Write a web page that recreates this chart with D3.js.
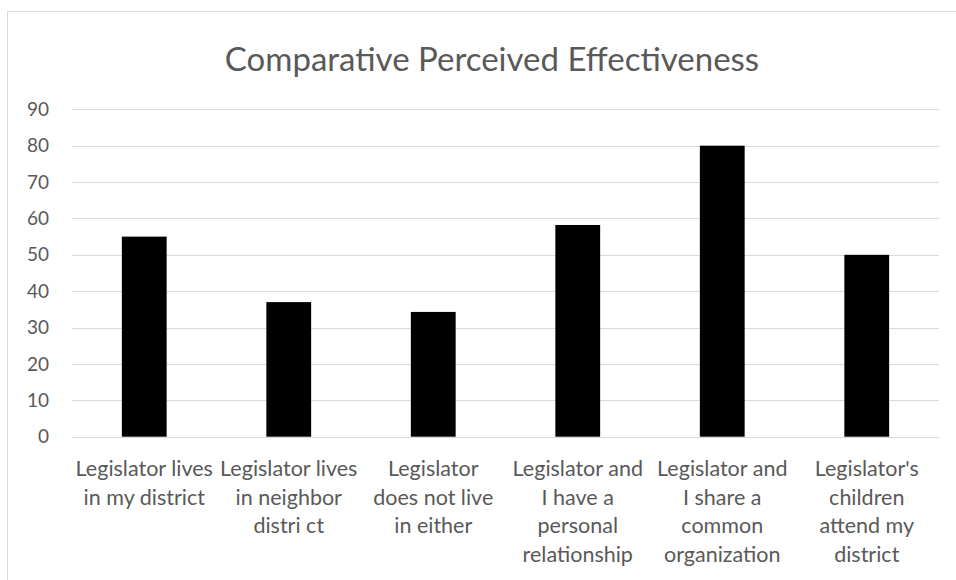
<!DOCTYPE html>
<html>
<head>
<meta charset="utf-8">
<script src="https://cdn.jsdelivr.net/npm/d3@7"></script>
<style>
  body { margin: 0; background: #fff; }
  text { font-family: Lato, "Open Sans", sans-serif; fill: #595959; }
</style>
</head>
<body>
<svg id="chart" width="956" height="580"></svg>
<script>
// data
const categories = [
  ["Legislator lives", "in my district"],
  ["Legislator lives", "in neighbor", "distri ct"],
  ["Legislator", "does not live", "in either"],
  ["Legislator and", "I have a", "personal", "relationship"],
  ["Legislator and", "I share a", "common", "organization"],
  ["Legislator's", "children", "attend my", "district"]
];
const values = [55, 37, 34.3, 58.2, 80, 50];
const yTicks = [0, 10, 20, 30, 40, 50, 60, 70, 80, 90];
const title = "Comparative Perceived Effectiveness";

const svg = d3.select("#chart");

// outer chart frame
svg.append("rect")
  .attr("x", 7.5).attr("y", 11.5)
  .attr("width", 990).attr("height", 600)
  .attr("fill", "none").attr("stroke", "#d9d9d9");

const plotLeft = 72, plotRight = 939, plotTop = 109.3, plotBottom = 436.7;

const x = d3.scaleBand()
  .domain(d3.range(categories.length))
  .range([plotLeft, plotRight])
  .paddingInner(0.69)
  .paddingOuter(0.345);

const y = d3.scaleLinear().domain([0, 90]).range([plotBottom, plotTop]);

// gridlines
svg.append("g")
  .selectAll("line")
  .data(yTicks)
  .join("line")
  .attr("x1", plotLeft).attr("x2", plotRight)
  .attr("y1", d => Math.round(y(d)) + 0.5)
  .attr("y2", d => Math.round(y(d)) + 0.5)
  .attr("stroke", "#d9d9d9")
  .attr("stroke-width", 1);

// y tick labels
svg.append("g")
  .selectAll("text")
  .data(yTicks)
  .join("text")
  .attr("x", 49)
  .attr("y", d => y(d))
  .attr("dy", "0.35em")
  .attr("text-anchor", "end")
  .style("font-size", "19px")
  .text(d => d);

// bars
svg.append("g")
  .selectAll("rect")
  .data(values)
  .join("rect")
  .attr("x", (d, i) => x(i))
  .attr("width", x.bandwidth())
  .attr("y", d => y(d))
  .attr("height", d => y(0) - y(d))
  .attr("fill", "#000");

// category labels
const labels = svg.append("g")
  .selectAll("text")
  .data(categories)
  .join("text")
  .attr("text-anchor", "middle")
  .style("font-size", "21.5px")
  .attr("transform", (d, i) => `translate(${x(i) + x.bandwidth() / 2},476)`);

labels.selectAll("tspan")
  .data(d => d)
  .join("tspan")
  .attr("x", 0)
  .attr("y", (d, j) => j * 28.6)
  .text(d => d);

// title
svg.append("text")
  .attr("x", 492)
  .attr("y", 71)
  .attr("text-anchor", "middle")
  .style("font-size", "33px")
  .text(title);
</script>
</body>
</html>
